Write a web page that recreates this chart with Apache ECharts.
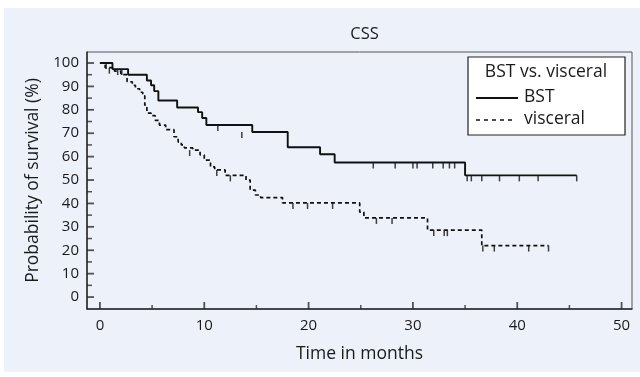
<!DOCTYPE html>
<html>
<head>
<meta charset="utf-8">
<script src="https://cdn.jsdelivr.net/npm/echarts@6/dist/echarts.min.js"></script>
<style>
html,body{margin:0;padding:0;background:#fff;}
#wrap{position:relative;width:640px;height:377px;}
#bg{position:absolute;left:4px;top:8px;width:636px;height:364px;background:#edf1f9;}
#c{position:absolute;left:0;top:0;width:640px;height:377px;}
</style>
</head>
<body>
<div id="wrap"><div id="bg"></div><div id="c"></div></div>
<script>
// ---- data (time in months, survival %) ----
var bstTime = [0, 1.2, 2.7, 4.5, 4.9, 5.2, 5.6, 7.4, 9.4, 9.8, 10.2, 14.6, 18.0, 21.1, 22.5, 35.0, 45.7];
var bstSurv = [100, 97.4, 95, 92.5, 90.5, 88, 84, 81, 79, 76.5, 73.5, 70.5, 64, 61, 57.5, 52, 52];
var bstCensorTime = [0.6, 1.7, 2.1, 11.3, 13.6, 26.2, 28.3, 30.0, 30.4, 31.9, 32.9, 33.5, 34.0, 35.2, 35.6, 36.6, 38.3, 40.2, 42.0, 45.7];
var bstCensorSurv = [100, 97.4, 97.4, 73.5, 70.5, 57.5, 57.5, 57.5, 57.5, 57.5, 57.5, 57.5, 57.5, 52, 52, 52, 52, 52, 52, 52];

var visTime = [0, 0.5, 1.4, 2.0, 2.6, 3.1, 3.4, 3.8, 4.1, 4.3, 4.5, 4.9, 5.3, 5.7, 6.3, 7.1, 7.5, 7.8, 8.1, 8.9, 9.6, 10.0, 10.6, 11.0, 12.0, 14.0, 14.4, 14.9, 15.4, 17.5, 24.9, 25.3, 31.4, 36.6, 43.0];
var visSurv = [100, 98, 96.5, 95, 92, 90.5, 89, 87.5, 86, 82, 78.6, 77.5, 75.5, 73.5, 71.5, 68.5, 66.2, 65, 63.7, 62.8, 60.7, 58.5, 55.6, 54.3, 52, 50, 45.7, 43.6, 42.5, 40.2, 36.3, 33.8, 28.6, 22, 22];
var visCensorTime = [0.9, 8.6, 11.2, 12.5, 18.5, 19.9, 22.3, 26.5, 28.0, 32.0, 33.0, 33.3, 36.7, 37.8, 41.1, 43.0];
var visCensorSurv = [98, 62.8, 54.3, 52, 40.2, 40.2, 40.2, 33.8, 33.8, 28.6, 28.6, 28.6, 22, 22, 22, 22];

// tick values
var xMajor = [0, 10, 20, 30, 40, 50];
var xMinor = [5, 15, 25, 35, 45];
var yMajor = [0, 10, 20, 30, 40, 50, 60, 70, 80, 90, 100];
var yMinor = [5, 15, 25, 35, 45, 55, 65, 75, 85, 95];

// axis extents (axes extend a little beyond 0 like the original)
var xMin = -1.24, xMax = 51.0, yMin = -5.1, yMax = 104.7;

function zip(a, b) { return a.map(function (v, i) { return [v, b[i]]; }); }
function atX(vals) { return vals.map(function (v) { return [v, yMin]; }); }
function atY(vals) { return vals.map(function (v) { return [xMin, v]; }); }

var FONT = '"Open Sans", sans-serif';
var DARK = '#1a1a1a';
var TICK = '#2a2a2a';
var chart = echarts.init(document.getElementById('c'));

function tickSeries(data, w, h, off) {
  return {type: 'scatter', data: data, symbol: 'rect', symbolSize: [w, h], symbolOffset: off,
          itemStyle: {color: TICK}, silent: true, clip: false, z: 6};
}

var option = {
  animation: false,
  title: {
    text: 'CSS', left: 359.5, top: 21, textAlign: 'center',
    textStyle: {fontFamily: FONT, fontSize: 16.5, fontWeight: 'normal', color: DARK}
  },
  grid: {left: 87, right: 8, top: 52, bottom: 68, show: true, borderColor: '#555', borderWidth: 1},
  xAxis: {
    type: 'value', min: xMin, max: xMax,
    name: 'Time in months', nameLocation: 'middle', nameGap: 36,
    nameTextStyle: {fontFamily: FONT, fontSize: 17.5, color: DARK},
    axisLine: {show: true, onZero: false, lineStyle: {color: TICK, width: 1.5}},
    axisTick: {show: false},
    axisLabel: {customValues: xMajor, margin: 9, fontFamily: FONT, fontSize: 15, color: DARK},
    splitLine: {show: false}
  },
  yAxis: {
    type: 'value', min: yMin, max: yMax,
    name: 'Probability of survival (%)', nameLocation: 'middle', nameGap: 44, nameRotate: 90,
    nameTextStyle: {fontFamily: FONT, fontSize: 17.5, color: DARK},
    axisLine: {show: true, onZero: false, lineStyle: {color: TICK, width: 1.5}},
    axisTick: {show: false},
    axisLabel: {customValues: yMajor, margin: 8, fontFamily: FONT, fontSize: 15, color: DARK},
    splitLine: {show: false}
  },
  graphic: [
    {type: 'rect', z: 100, shape: {x: 468, y: 57, width: 157, height: 78}, style: {fill: '#ffffff', stroke: '#222', lineWidth: 1.2}},
    {type: 'text', z: 101, style: {x: 546, y: 72, text: 'BST vs. visceral', align: 'center', verticalAlign: 'middle', font: '17.5px ' + FONT, fill: DARK}},
    {type: 'line', z: 101, shape: {x1: 476, y1: 98, x2: 518, y2: 98}, style: {stroke: '#111', lineWidth: 1.8}},
    {type: 'text', z: 101, style: {x: 524, y: 97, text: 'BST', align: 'left', verticalAlign: 'middle', font: '17.5px ' + FONT, fill: DARK}},
    {type: 'line', z: 101, shape: {x1: 476, y1: 120, x2: 514, y2: 120}, style: {stroke: '#111', lineWidth: 1.4, lineDash: [4, 4]}},
    {type: 'text', z: 101, style: {x: 524, y: 119, text: 'visceral', align: 'left', verticalAlign: 'middle', font: '17.5px ' + FONT, fill: DARK}}
  ],
  series: [
    {type: 'line', name: 'BST', step: 'end', data: zip(bstTime, bstSurv), showSymbol: false,
     lineStyle: {color: '#111', width: 1.9}},
    {type: 'line', name: 'visceral', step: 'end', data: zip(visTime, visSurv), showSymbol: false,
     lineStyle: {color: '#111', width: 1.7, type: [4, 3]}},
    {type: 'scatter', data: zip(bstCensorTime, bstCensorSurv), symbol: 'rect', symbolSize: [1.5, 6], symbolOffset: [0, 3],
     itemStyle: {color: '#111'}, silent: true},
    {type: 'scatter', data: zip(visCensorTime, visCensorSurv), symbol: 'rect', symbolSize: [1.5, 6], symbolOffset: [0, 3],
     itemStyle: {color: '#111'}, silent: true},
    tickSeries(atX(xMajor), 1.8, 7, [0, -3.5]),
    tickSeries(atX(xMinor), 1.5, 4, [0, -2]),
    tickSeries(atY(yMajor), 7, 1.8, [3.5, 0]),
    tickSeries(atY(yMinor), 5, 1.5, [2.5, 0])
  ]
};
chart.setOption(option);
</script>
</body>
</html>
